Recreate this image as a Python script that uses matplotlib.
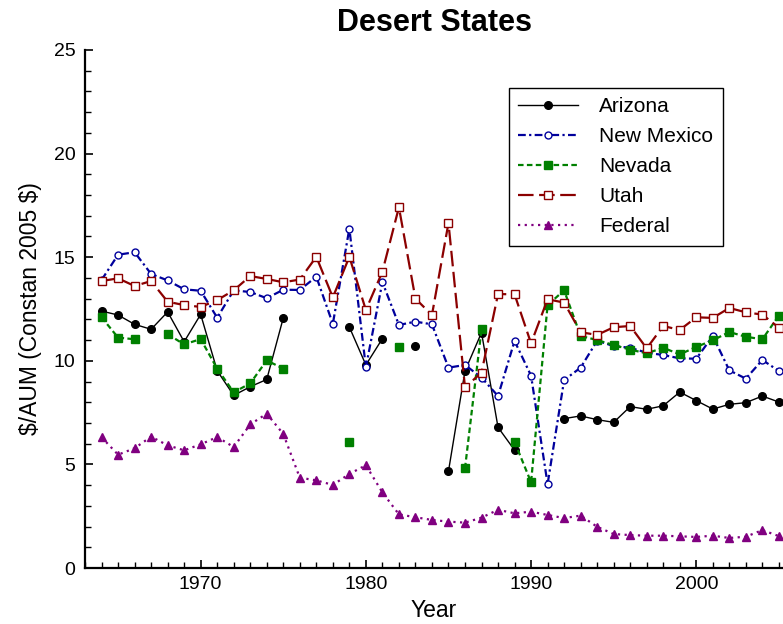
import numpy as np
import matplotlib.pyplot as plt
from matplotlib.ticker import MultipleLocator

plt.rcParams['font.family'] = ['Liberation Sans', 'DejaVu Sans']

nan = np.nan
years = np.arange(1964, 2006)

arizona = [12.40, 12.21, 11.76, 11.52, 12.36, 10.92, 12.24, 9.52, 8.33, 8.75,
           9.10, 12.07, nan, nan, nan, 11.63, 9.80, 11.07, nan, 10.73,
           nan, 4.67, 9.51, 11.36, 6.79, 5.69, nan, nan, 7.21, 7.34,
           7.16, 7.03, 7.79, 7.66, 7.83, 8.49, 8.08, 7.67, 7.90, 7.98,
           8.30, 8.01]
new_mexico = [13.90, 15.12, 15.24, 14.19, 13.88, 13.45, 13.38, 12.08, 13.40, 13.32,
              13.02, 13.43, 13.42, 14.06, 11.78, 16.38, 9.69, 13.80, 11.73, 11.89,
              11.76, 9.67, 9.80, 9.19, 8.30, 10.96, 9.28, 4.05, 9.07, 9.67,
              10.97, 10.71, 10.63, 10.39, 10.28, 10.12, 10.10, 11.20, 9.54, 9.14,
              10.04, 9.51]
nevada = [12.10, 11.12, 11.04, nan, 11.29, 10.79, 11.05, 9.62, 8.48, 8.91,
          10.02, 9.62, nan, nan, nan, 6.07, nan, nan, 10.68, nan,
          nan, nan, 4.81, 11.52, nan, 6.09, 4.14, 12.69, 13.40, 11.20,
          11.00, 10.76, 10.54, 10.36, 10.63, 10.31, 10.67, 10.99, 11.39, 11.16,
          11.04, 12.18]
utah = [13.85, 13.98, 13.61, 13.85, 12.85, 12.69, 12.60, 12.93, 13.40, 14.09,
        13.95, 13.79, 13.92, 15.02, 13.06, 15.02, 12.45, 14.30, 17.41, 13.00,
        12.21, 16.65, 8.72, 9.43, 13.22, 13.21, 10.84, 12.97, 12.81, 11.38,
        11.25, 11.62, 11.68, 10.60, 11.68, 11.49, 12.10, 12.07, 12.55, 12.34,
        12.23, 11.60]
federal = [6.31, 5.47, 5.78, 6.34, 5.92, 5.68, 5.97, 6.32, 5.84, 6.93,
           7.45, 6.47, 4.36, 4.23, 4.01, 4.54, 4.96, 3.65, 2.59, 2.45,
           2.32, 2.24, 2.19, 2.43, 2.81, 2.64, 2.72, 2.56, 2.41, 2.53,
           1.99, 1.64, 1.59, 1.56, 1.56, 1.53, 1.50, 1.56, 1.45, 1.51,
           1.83, 1.54]

fig = plt.figure(figsize=(7.83, 6.24), dpi=100)
ax = fig.add_axes([0.1086, 0.0897, 0.8914, 0.8302])

ax.plot(years, arizona, color='black', lw=1.0, marker='o', ms=5.5,
        label='Arizona')
ax.plot(years, new_mexico, color='#00009c', lw=1.6, dashes=(3.5, 1.5, 1, 1.5),
        marker='o', ms=5, mfc='white', mec='#00009c', mew=1.0, label='New Mexico')
ax.plot(years, nevada, color='#008000', lw=1.6, dashes=(2.5, 1.5),
        marker='s', ms=5.5, label='Nevada')
ax.plot(years, utah, color='#8b0000', lw=1.6, dashes=(7, 2.5),
        marker='s', ms=6, mfc='white', mec='#8b0000', mew=1.0, label='Utah')
ax.plot(years, federal, color='#800080', lw=1.6, dashes=(1, 2),
        marker='^', ms=6, label='Federal')

ax.set_xlim(1963, 2005.25)
ax.set_ylim(0, 25)
ax.xaxis.set_major_locator(MultipleLocator(10))
ax.xaxis.set_minor_locator(MultipleLocator(1))
ax.yaxis.set_major_locator(MultipleLocator(5))
ax.yaxis.set_minor_locator(MultipleLocator(1))
ax.tick_params(which='both', direction='in', width=1.2, labelsize=14)
ax.tick_params(which='major', length=6)
ax.tick_params(which='minor', length=4.5, width=1.0)
ax.tick_params(axis='x', pad=6)
ax.tick_params(axis='y', pad=7)
for s in ['top', 'right']:
    ax.spines[s].set_visible(False)
for s in ['left', 'bottom']:
    ax.spines[s].set_linewidth(1.6)

ax.set_xlabel('Year', fontsize=16.5, labelpad=4)
ax.set_ylabel(r'\$/AUM (Constan 2005 \$)', fontsize=16.5, labelpad=8)
ax.set_title('Desert States', fontsize=22, fontweight='bold', pad=14)

leg = ax.legend(loc='upper left', bbox_to_anchor=(0.607, 0.927), borderaxespad=0,
                fontsize=15, fancybox=False, edgecolor='black', framealpha=1,
                handlelength=2.9, labelspacing=0.53, borderpad=0.45,
                handletextpad=1.0)
leg.get_frame().set_linewidth(1.0)

fig.savefig('out.png', dpi=100)
